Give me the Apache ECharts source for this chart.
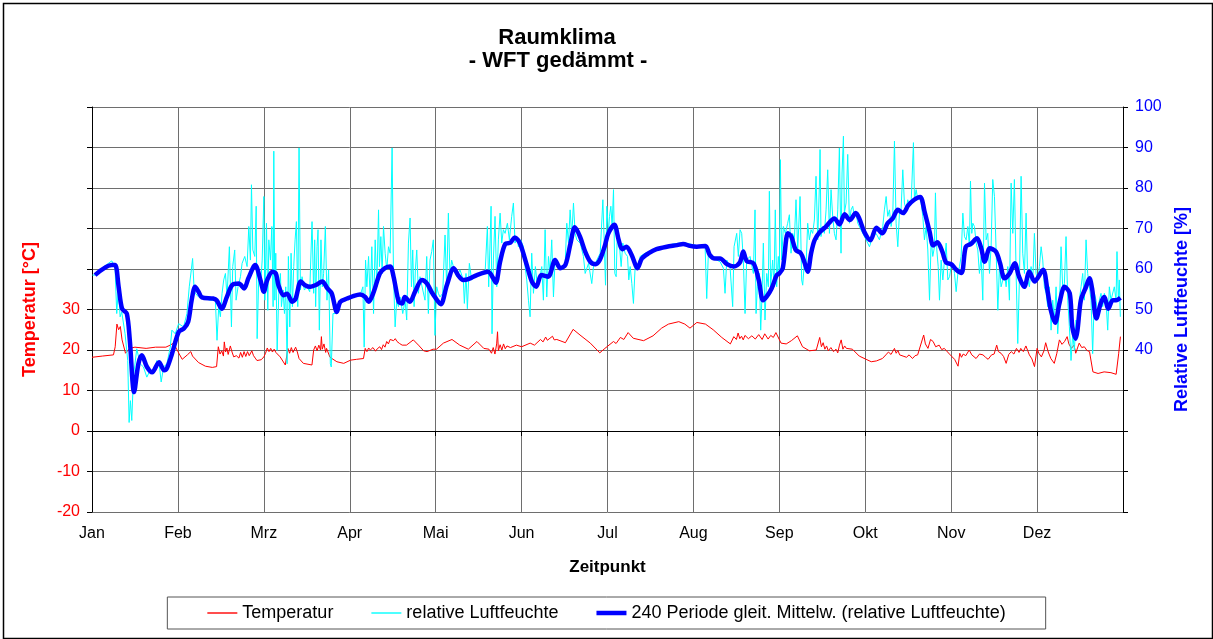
<!DOCTYPE html>
<html>
<head>
<meta charset="utf-8">
<script src="https://cdn.jsdelivr.net/npm/echarts@6/dist/echarts.min.js"></script>
<style>
html,body{margin:0;padding:0;background:#fff;}
#chart{width:1213px;height:639px;}
</style>
</head>
<body>
<div id="chart"></div>
<script>
// ---- categories / tick labels ----
const months = ['Jan','Feb','Mrz','Apr','Mai','Jun','Jul','Aug','Sep','Okt','Nov','Dez'];
const tempTicksShown = [-20,-10,0,10,20,30];
const humTicksShown = [40,50,60,70,80,90,100];
const seriesNames = ['Temperatur', 'relative Luftfeuchte', '240 Periode gleit. Mittelw. (relative Luftfeuchte)'];

// ---- Temperatur [°C]  (x = month position, 0 = 1. Jan, 12 = 31. Dez) ----
const tempJanApr = [
[0.0,18.2],[0.12,18.5],[0.25,18.8],[0.27,20.8],[0.29,26.4],[0.31,25],[0.33,25.8],[0.35,22.5],[0.39,19.2],[0.44,20.4],[0.5,20.7],[0.63,20.4],[0.74,20.7],[0.86,20.7],[0.91,21.2],[0.95,21.7],[1.0,19.6],[1.05,17.7],[1.11,18.8],[1.15,19.6],[1.17,18.5],[1.24,16.9],[1.32,16],[1.4,15.7],[1.45,15.9],[1.47,20.8],[1.49,19.0],[1.51,19.8],[1.53,18.5],[1.54,22],[1.555,19.5],[1.57,20.5],[1.585,18.9],[1.61,21],[1.63,19.5],[1.65,18.3],[1.68,18.6],[1.71,18.0],[1.73,19.4],[1.75,18.2],[1.77,19.6],[1.79,18.4],[1.81,19.6],[1.83,18.6],[1.86,19.8],[1.88,18.6],[1.9,18.0],[1.92,17.4],[1.94,17.1],[1.97,17.6],[2.0,18.3],
[2.02,19.2],[2.04,20.5],[2.06,19.6],[2.08,20.4],[2.1,19.5],[2.12,20.2],[2.14,19.4],[2.19,18.3],[2.25,16.3],[2.28,20.4],[2.3,19.2],[2.32,20.6],[2.34,19.4],[2.37,20.7],[2.39,19.5],[2.41,17.9],[2.46,16.7],[2.56,16.3],[2.58,20],[2.6,21],[2.62,19.8],[2.64,21.2],[2.66,20],[2.67,23.3],[2.68,20.2],[2.7,21.5],[2.72,19.4],[2.73,20.4],[2.77,18.2],[2.85,17.1],[2.93,16.7],[3.01,17.5],[3.08,17.7],[3.16,17.9],[3.18,20.4],[3.2,19.6],[3.22,20.5],[3.24,20],[3.27,20.6],[3.3,19.7],[3.32,20.3],[3.35,20.8],[3.37,20.1],[3.39,21.3],[3.41,20.7],[3.43,22.1],[3.45,21.5],[3.47,22.6],[3.49,22.9],[3.51,22.3],[3.53,22.8],[3.55,22.1],[3.58,21.6],[3.61,21.2],[3.66,21.2],[3.74,22.5],[3.8,21.2],[3.86,19.8],[3.9,19.6],[3.97,20.2]
];
const tempMaiAug = [
[4.01,20.2],[4.09,21.7],[4.19,22.6],[4.28,21.2],[4.38,20.2],[4.48,22.1],[4.56,20.4],[4.62,20.2],[4.65,19.2],[4.67,20.6],[4.69,19.0],[4.71,21.5],[4.72,24.5],[4.73,19.8],[4.75,21.3],[4.77,20.0],[4.79,21.5],[4.81,20.3],[4.83,21.0],[4.87,20.6],[4.94,21.2],[5.0,20.8],[5.1,21.7],[5.15,21.2],[5.22,22.6],[5.25,22.0],[5.28,23.2],[5.3,22.4],[5.33,22.9],[5.36,23.4],[5.38,22.5],[5.41,22.6],[5.51,21.8],[5.6,25.1],[5.68,23.7],[5.8,21.7],[5.91,19.3],[5.97,20.4],
[6.07,22.1],[6.1,21.6],[6.15,23.1],[6.19,22.6],[6.24,24.3],[6.3,22.9],[6.42,22.3],[6.53,23.5],[6.63,25.4],[6.71,26.4],[6.83,27],[6.9,26.4],[6.96,25.4],[7.04,26.8],[7.14,26.4],[7.23,25],[7.33,23.1],[7.43,21.5],[7.47,23.3],[7.5,22.6],[7.52,24.2],[7.54,22.8],[7.56,23.4],[7.58,22.5],[7.6,23.6],[7.64,22.8],[7.68,23.5],[7.72,22.7],[7.76,23.8],[7.8,22.6],[7.83,24.0],[7.87,22.7],[7.9,23.6],[7.93,23.1],[7.96,24.3]
];
const tempSepDez = [
[7.98,24.1],[8.02,21.7],[8.08,21.5],[8.14,22.3],[8.21,23.5],[8.27,20.8],[8.35,19.8],[8.43,20],[8.47,23.1],[8.49,20.8],[8.51,21.8],[8.53,20.2],[8.55,21.0],[8.57,19.8],[8.6,20.6],[8.63,19.6],[8.66,20.2],[8.68,19.3],[8.7,21.2],[8.72,22.5],[8.74,20.2],[8.76,21.0],[8.78,20.4],[8.85,20.2],[8.93,18.5],[9.01,17.7],[9.07,17.1],[9.13,17.3],[9.2,17.9],[9.24,18.8],[9.27,19.5],[9.3,18.9],[9.34,20.4],[9.36,19.2],[9.38,19.9],[9.4,18.8],[9.44,18.5],[9.48,18.2],[9.51,18.8],[9.55,17.9],[9.58,18.6],[9.61,18.8],[9.68,23.7],[9.7,21.5],[9.73,20.4],[9.76,22.6],[9.79,22.1],[9.82,20.8],[9.86,21.2],[9.89,20.1],[9.92,20.4],
[9.98,19],[10.04,17.7],[10.08,16],[10.1,19.2],[10.12,18.2],[10.14,19.0],[10.17,18.6],[10.21,20],[10.24,18.8],[10.29,17.9],[10.33,19.0],[10.37,18.8],[10.4,18.2],[10.43,17.7],[10.47,18.8],[10.5,19],[10.53,21.2],[10.55,19.6],[10.58,19.2],[10.61,18.4],[10.64,16.7],[10.67,18.9],[10.7,19.6],[10.73,19.0],[10.76,20.4],[10.79,19.4],[10.81,20.4],[10.84,19.6],[10.87,21],[10.91,18.8],[10.94,17.8],[10.97,15.9],[11.0,20.4],[11.02,19.2],[11.05,18.3],[11.08,19.8],[11.1,21.8],[11.13,19.5],[11.16,17.9],[11.2,16.7],[11.23,19.2],[11.26,22.5],[11.29,21.4],[11.32,22.1],[11.35,23.3],[11.37,21.5],[11.4,20.4],[11.43,21.2],[11.45,19.2],[11.49,21.7],[11.52,20.6],[11.55,20.8],[11.58,19.9],[11.61,19.6],[11.65,14.6],[11.71,14.2],[11.78,14.6],[11.86,14.4],[11.92,14],[11.95,19.2],[11.97,23.3]
];

// ---- relative Luftfeuchte [%] ----
const humJanFeb = [
[0.005,58.5],[0.035,58.5],[0.113,60.2],[0.191,61.4],[0.23,62],[0.249,62.4],[0.268,60.6],[0.288,49],[0.307,55.6],[0.327,48.2],[0.346,49.4],[0.385,44],[0.416,37.4],[0.432,22.1],[0.447,27.5],[0.463,22.6],[0.482,33.3],[0.521,40.3],[0.56,36.6],[0.599,35.8],[0.638,33.3],[0.677,35],[0.716,34.1],[0.755,37.4],[0.782,36.6],[0.805,32.1],[0.833,35.8],[0.872,36.6],[0.911,40.7],[0.93,44.9],[0.969,44],[1.008,46.5],[1.066,45.7],[1.105,49],[1.132,55.6],[1.156,59.8],[1.171,62.6],[1.187,55.6],[1.202,54],[1.241,53.1],[1.3,52.7],[1.377,52.3],[1.436,52.3],[1.455,42.4],[1.475,50.7],[1.494,48.2],[1.514,54],[1.533,57.3],[1.553,58.9],[1.572,53.1],[1.599,65.5],[1.623,45.7],[1.638,60.6],[1.661,64.7],[1.677,52.3],[1.7,55.6],[1.728,58.1],[1.747,61.4],[1.778,63.1],[1.805,60.6],[1.825,70.5],[1.844,62.2],[1.856,80.8],[1.872,64.7],[1.895,63.1],[1.911,75.5],[1.922,42.8],[1.942,58.9],[1.961,55.6],[1.981,62.2]
];
const humMarApr = [
[2.0,77.9],[2.012,52.3],[2.031,71.3],[2.046,49.8],[2.058,67.2],[2.077,62.2],[2.093,70.5],[2.108,50.7],[2.116,89.1],[2.128,52.3],[2.139,63.9],[2.155,39.9],[2.174,54],[2.193,58.9],[2.205,50.7],[2.224,54.8],[2.24,49],[2.255,55.6],[2.271,36.6],[2.286,63.1],[2.302,45.7],[2.317,63.9],[2.333,50.7],[2.348,60.6],[2.364,67.2],[2.379,71.7],[2.395,50.7],[2.41,89.9],[2.426,54.8],[2.445,58.1],[2.472,54.8],[2.503,55.6],[2.534,54.4],[2.561,71.7],[2.58,54],[2.592,67.2],[2.603,50.7],[2.619,65.5],[2.631,69.7],[2.646,44.9],[2.665,67.2],[2.681,55.6],[2.696,58.9],[2.716,70.5],[2.735,52.3],[2.754,59.8],[2.774,36.6],[2.785,35.8],[2.805,49],[2.832,49],[2.87,51.1],[2.909,52.3],[2.967,52.7],[3.044,53.6],[3.122,53.6],[3.153,55.6],[3.168,40.7],[3.184,62.2],[3.199,55.6],[3.219,63.1],[3.238,52.3],[3.257,65.5],[3.277,49],[3.296,67.2],[3.315,55.6],[3.335,74.6],[3.346,60.6],[3.362,68],[3.377,58.9],[3.393,70.5],[3.412,63.9],[3.431,59.8],[3.451,65.5],[3.47,63.9],[3.493,89.9],[3.509,58.9],[3.528,45.7],[3.547,52.3],[3.567,50.7],[3.586,53.1],[3.617,49],[3.644,52.3],[3.663,47.4],[3.683,66.4],[3.702,72.6],[3.718,55.6],[3.733,64.7],[3.749,50.7],[3.764,59.8],[3.78,64.7],[3.799,54],[3.818,58.1],[3.838,56],[3.857,55.6],[3.876,52.3],[3.896,63.1],[3.915,49],[3.934,62.2],[3.954,64.3],[3.973,67.2],[3.992,43.6],[4.012,55.6]
];
const humMaiJun = [
[4.031,54],[4.05,53.1],[4.082,54],[4.109,68.4],[4.128,55.6],[4.148,73.8],[4.167,58.1],[4.186,62.2],[4.206,60.6],[4.245,58.1],[4.283,59.8],[4.322,57.3],[4.334,51.5],[4.353,58.9],[4.369,50.2],[4.392,61.4],[4.419,57.3],[4.458,58.1],[4.517,58.9],[4.575,58.9],[4.602,70.5],[4.617,55.6],[4.633,66.4],[4.645,75.5],[4.656,44],[4.672,62.2],[4.691,73],[4.711,55.6],[4.73,67.2],[4.75,73.8],[4.769,66.4],[4.788,69.7],[4.808,68.8],[4.835,71.3],[4.858,67.2],[4.885,73],[4.905,76.3],[4.924,66.4],[4.944,68],[4.963,65.5],[4.99,67.2],[5.021,65.5],[5.041,60.6],[5.06,57.3],[5.08,52.3],[5.099,48.2],[5.118,63.9],[5.138,54],[5.161,60.6],[5.184,55.6],[5.208,57.3],[5.235,60.6],[5.254,52.3],[5.274,69.7],[5.293,53.1],[5.313,63.1],[5.332,58.9],[5.351,67.2],[5.371,53.1],[5.39,62.2],[5.429,60.6],[5.468,59.8],[5.507,61],[5.526,71.3],[5.546,66.4],[5.565,74.6],[5.584,68],[5.604,76.3],[5.623,68.8],[5.643,67.2],[5.682,66.4],[5.72,63.1],[5.74,58.9],[5.779,61.4],[5.817,56.4],[5.837,60.6],[5.876,62.2],[5.915,63.9],[5.946,77.1],[5.961,67.2],[5.977,56],[5.992,75.5],[6.012,68.8]
];
const humJulAug = [
[6.023,73],[6.039,75.5],[6.054,70.5],[6.07,79.6],[6.085,58.9],[6.101,58.1],[6.116,70.5],[6.14,65.5],[6.159,60.6],[6.178,66.4],[6.205,63.9],[6.233,63.1],[6.248,57.3],[6.264,60.6],[6.283,56.4],[6.302,51.5],[6.322,60.6],[6.349,59.8],[6.38,63.1],[6.438,63.9],[6.535,64.7],[6.651,65.5],[6.767,66.2],[6.884,66.5],[7.0,66],[7.078,65.5],[7.136,65.5],[7.155,52.7],[7.174,63.9],[7.233,62.6],[7.31,61.8],[7.349,60.2],[7.368,54],[7.388,62.2],[7.426,60.6],[7.457,50.7],[7.473,65.5],[7.504,68.8],[7.523,63.1],[7.543,69.7],[7.562,68.8],[7.581,62.2],[7.601,49],[7.62,62.2],[7.659,63.1],[7.698,58.9],[7.717,74.6],[7.729,49],[7.744,55.6],[7.767,58.9],[7.783,44.9],[7.798,53.1],[7.814,66.4],[7.833,47.4],[7.853,58.9],[7.872,55.6],[7.884,79.2],[7.899,55.6],[7.922,62.2],[7.938,55.6],[7.953,74.6],[7.969,55.6],[7.988,63.1]
];
const humSepOkt = [
[8.0,58.9],[8.012,87],[8.027,62.2],[8.047,70.5],[8.07,68.8],[8.097,71.3],[8.117,73.4],[8.136,63.9],[8.155,68.8],[8.175,67.2],[8.194,77.1],[8.214,64.7],[8.241,77.9],[8.26,57.3],[8.272,56],[8.291,61.4],[8.311,60.6],[8.33,71.3],[8.35,67.2],[8.369,69.7],[8.388,68.8],[8.408,72.1],[8.427,82.9],[8.447,67.2],[8.466,80.4],[8.474,89.5],[8.485,68],[8.505,70.5],[8.524,68.8],[8.544,74.6],[8.563,84.5],[8.583,68.8],[8.602,79.6],[8.621,73],[8.641,68.8],[8.66,67.2],[8.68,74.6],[8.699,89.9],[8.718,63.9],[8.73,83.7],[8.746,92.8],[8.757,73.8],[8.777,76.3],[8.796,88.3],[8.816,71.3],[8.835,74.6],[8.854,75.5],[8.874,73],[8.893,73.8],[8.913,71.3],[8.932,71.3],[8.971,68.8],[9.01,67.2],[9.049,65.5],[9.087,68],[9.126,68.8],[9.165,67.2],[9.204,70.5],[9.223,74.6],[9.243,77.9],[9.262,73],[9.282,74.6],[9.301,70.5],[9.32,73],[9.34,91.6],[9.359,71.3],[9.379,65.5],[9.398,73.8],[9.417,74.6],[9.437,84.5],[9.456,76.3],[9.476,74.6],[9.495,77.1],[9.515,75.5],[9.534,76.3],[9.561,91.2],[9.573,77.1],[9.592,79.6],[9.612,77.1],[9.631,77.9],[9.65,76.3],[9.67,73],[9.689,67.2],[9.709,70.5],[9.728,64.7],[9.748,52.3],[9.767,67.2],[9.786,63.1],[9.806,65.5],[9.817,78.8],[9.833,64.7],[9.849,60.6],[9.864,52.3],[9.883,62.2],[9.903,57.3],[9.922,62.2],[9.942,66.4],[9.961,57.3]
];
const humNovDez = [
[9.981,58.1],[10.0,60.6],[10.019,61.4],[10.039,58.9],[10.058,54.4],[10.078,58.9],[10.097,60.6],[10.116,63.1],[10.136,73.8],[10.155,68],[10.174,67.2],[10.194,70.5],[10.213,65.5],[10.225,81.7],[10.24,68.8],[10.252,71.3],[10.271,70.5],[10.291,66.4],[10.31,64.7],[10.329,58.9],[10.349,63.1],[10.368,52.3],[10.388,81.2],[10.407,67.2],[10.426,68.8],[10.446,58.9],[10.465,65.5],[10.484,82.1],[10.504,77.9],[10.523,64.7],[10.543,49.8],[10.562,60.6],[10.581,55.6],[10.601,57.3],[10.62,58.9],[10.64,55.6],[10.659,60.6],[10.678,52.3],[10.698,81.2],[10.717,68.8],[10.736,82.1],[10.756,58.9],[10.775,41.6],[10.795,58.1],[10.814,82.9],[10.833,63.9],[10.853,58.9],[10.872,73.8],[10.891,57.3],[10.911,55.6],[10.93,60.6],[10.95,57.3],[10.969,68.8],[10.988,58.9],[11.008,57.3],[11.027,60.6],[11.047,65.5],[11.066,62.2],[11.085,55.6],[11.105,54],[11.124,50.7],[11.143,55.6],[11.163,44.9],[11.182,52.3],[11.202,47.4],[11.221,55.6],[11.24,44],[11.26,50.7],[11.279,65.5],[11.298,55.6],[11.318,56.4],[11.337,68],[11.357,52.3],[11.376,45.7],[11.395,37.4],[11.415,44],[11.434,39.9],[11.453,47.4],[11.473,44.9],[11.492,52.3],[11.512,55.6],[11.531,58.9],[11.55,52.3],[11.57,67.2],[11.589,58.9],[11.609,55.6],[11.628,52.3],[11.647,39.1],[11.667,54],[11.686,52.3],[11.705,49],[11.725,52.3],[11.744,54],[11.764,50.7],[11.783,54],[11.802,52.3],[11.822,44.9],[11.841,55.6],[11.86,52.3],[11.88,52.3],[11.899,55.6],[11.919,52.3],[11.93,64.3],[11.946,52.3],[11.957,57.3],[11.969,48.2]
];

// ---- 240 Periode gleit. Mittelw. (relative Luftfeuchte) ----
const maJanApr = [
[0.035,58.5],[0.23,61],[0.27,61],[0.31,55.6],[0.35,50.2],[0.405,49],[0.44,42.4],[0.49,29.6],[0.54,36.6],[0.58,38.7],[0.64,35.8],[0.70,34.5],[0.78,37],[0.84,35],[0.87,35.4],[0.93,39],[1.01,44.5],[1.07,45.3],[1.12,47],[1.16,52.3],[1.2,55.6],[1.24,54.4],[1.28,53],[1.41,52.7],[1.45,52.3],[1.51,50.2],[1.57,53.1],[1.63,56],[1.71,56.4],[1.77,55.2],[1.82,57.7],[1.9,61],[1.96,57.3],[2.0,54.4],
[2.04,57.3],[2.1,59.3],[2.14,58.9],[2.17,56],[2.23,53.5],[2.27,53.9],[2.33,51.9],[2.37,52.7],[2.43,56.9],[2.48,56],[2.54,55.6],[2.6,56],[2.68,56.9],[2.74,55.2],[2.79,54],[2.85,49.4],[2.89,51.9],[2.97,52.7],[3.04,53.3],[3.12,53.7],[3.18,53.1],[3.22,51.9],[3.28,54.4],[3.35,58.9],[3.41,60.2],[3.47,60.6],[3.51,58.1],[3.57,51.9],[3.61,51.5],[3.64,53.1],[3.7,51.9],[3.76,54.4],[3.84,57.3],[3.9,56.4],[3.95,54.4]
];
const maMaiAug = [
[3.99,53.1],[4.06,51.3],[4.13,56],[4.21,60.2],[4.26,58.5],[4.32,57.3],[4.38,57.5],[4.48,58.5],[4.61,59.3],[4.67,57.7],[4.7,56.6],[4.75,61.8],[4.81,66.2],[4.87,66.5],[4.92,67.8],[4.98,66.4],[5.06,61],[5.12,56.9],[5.17,55.6],[5.23,58.5],[5.31,58.1],[5.39,62.2],[5.45,60.2],[5.51,61],[5.57,66.4],[5.62,70.3],[5.68,68],[5.74,64.3],[5.8,61.8],[5.86,61.2],[5.91,62.2],[5.97,65.8],
[6.01,68.8],[6.08,70.9],[6.13,67.2],[6.17,64.9],[6.22,65.5],[6.28,63.5],[6.35,60.2],[6.4,62.6],[6.48,63.9],[6.57,64.9],[6.69,65.5],[6.81,65.9],[6.88,66.2],[6.96,65.7],[7.04,65.5],[7.14,65.7],[7.19,63.5],[7.25,62.6],[7.31,62.6],[7.39,61.2],[7.47,60.6],[7.54,61.6],[7.58,64.3],[7.62,62],[7.7,61.4],[7.76,57.3],[7.81,52.3],[7.85,53.1],[7.91,55.2],[7.97,58.5]
];
const maSepDez = [
[8.0,58.9],[8.04,60.2],[8.1,68.8],[8.14,68],[8.19,64.7],[8.25,63.9],[8.29,61.8],[8.33,59.3],[8.37,63.9],[8.41,67.1],[8.47,69.1],[8.54,70.4],[8.64,72.5],[8.7,71],[8.76,73.5],[8.82,72.1],[8.89,73.8],[8.93,72.5],[8.99,69.1],[9.06,67.1],[9.13,70.2],[9.2,68.8],[9.26,71.3],[9.32,72.5],[9.38,74.6],[9.44,73.8],[9.5,75.7],[9.57,77.1],[9.64,77.8],[9.69,74.2],[9.75,69.1],[9.79,65.8],[9.84,66.6],[9.9,64.1],[9.94,61.6],
[10.0,61.2],[10.06,59.8],[10.12,59],[10.17,65.5],[10.23,66.2],[10.3,67.6],[10.35,65.1],[10.39,61.8],[10.45,65.1],[10.52,64.3],[10.57,61.4],[10.62,57.7],[10.68,58.9],[10.74,61.4],[10.79,58.1],[10.85,55.6],[10.91,59.3],[10.97,56.9],[11.07,59.8],[11.12,54.8],[11.16,49.8],[11.21,46.7],[11.26,51.5],[11.32,55.6],[11.38,54],[11.41,45.7],[11.45,42.8],[11.47,44.8],[11.51,52.3],[11.57,55.6],[11.61,57.7],[11.64,55.2],[11.69,47.8],[11.74,51.5],[11.78,53.1],[11.83,50.2],[11.88,52.3],[11.92,52.3],[11.97,52.9]
];

const tempData = [].concat(tempJanApr, tempMaiAug, tempSepDez);
const humData = [].concat(humJanFeb, humMarApr, humMaiJun, humJulAug, humSepOkt, humNovDez);
const maData = [].concat(maJanApr, maMaiAug, maSepDez);

const FONT = "'Liberation Sans', Arial, sans-serif";
const chart = echarts.init(document.getElementById('chart'), null, {renderer: 'canvas'});
const gridColor = '#6e6e6e';

chart.setOption({
  backgroundColor: '#ffffff',
  animation: false,
  textStyle: {fontFamily: FONT},
  graphic: [
    {type: 'rect', left: 1, top: 1, shape: {x: 0, y: 0, width: 1209, height: 635},
     style: {fill: 'none', stroke: '#000', lineWidth: 1.5}, z: -1},
    {type: 'text', x: 557, y: 38, style: {text: 'Raumklima', font: 'bold 22px ' + FONT, fill: '#000', textAlign: 'center', textVerticalAlign: 'middle'}},
    {type: 'text', x: 558, y: 61, style: {text: '- WFT gedämmt -', font: 'bold 22px ' + FONT, fill: '#000', textAlign: 'center', textVerticalAlign: 'middle'}}
  ],
  grid: {left: 92, right: 90, top: 107, bottom: 127, containLabel: false},
  legend: {
    bottom: 10, left: 'center',
    data: [
      {name: seriesNames[0], icon: 'path://M0,0H30V1.4H0Z'},
      {name: seriesNames[1], icon: 'path://M0,0H30V1.4H0Z'},
      {name: seriesNames[2], icon: 'path://M0,0H30V4.5H0Z'}
    ],
    symbolKeepAspect: true,
    itemWidth: 30, itemHeight: 14, itemGap: 38,
    borderColor: '#555', borderWidth: 1, padding: [7, 40, 7, 40],
    textStyle: {fontSize: 18, color: '#000', fontFamily: FONT}
  },
  xAxis: {
    type: 'value', min: 0, max: 12, interval: 1,
    name: 'Zeitpunkt', nameLocation: 'middle', nameGap: 47,
    nameTextStyle: {fontSize: 17, fontWeight: 'bold', color: '#000', fontFamily: FONT},
    axisLine: {show: true, lineStyle: {color: '#000', width: 1}},
    axisTick: {show: true, length: 5, lineStyle: {color: '#000'}},
    axisLabel: {fontSize: 16, color: '#000', margin: 14, fontFamily: FONT,
      formatter: v => months[v] || ''},
    splitLine: {show: true, lineStyle: {color: gridColor, width: 1}}
  },
  yAxis: [
    {
      type: 'value', position: 'left', min: -20, max: 80, interval: 10,
      name: 'Temperatur [°C]', nameLocation: 'middle', nameRotate: 90, nameGap: 53,
      nameTextStyle: {fontSize: 18, fontWeight: 'bold', color: '#ff0000', fontFamily: FONT},
      axisLine: {show: true, lineStyle: {color: '#000', width: 1}},
      axisTick: {show: true, length: 5, lineStyle: {color: '#000'}},
      axisLabel: {fontSize: 16, color: '#ff0000', margin: 12, fontFamily: FONT,
        formatter: v => tempTicksShown.indexOf(v) >= 0 ? String(v) : ''},
      splitLine: {show: true, lineStyle: {color: gridColor, width: 1}}
    },
    {
      type: 'value', position: 'right', min: 0, max: 100, interval: 10,
      name: 'Relative Luftfeuchte [%]', nameLocation: 'middle', nameRotate: 90, nameGap: 50,
      nameTextStyle: {fontSize: 18, fontWeight: 'bold', color: '#0000ff', fontFamily: FONT},
      axisLine: {show: true, lineStyle: {color: '#000', width: 1}},
      axisTick: {show: true, length: 5, lineStyle: {color: '#000'}},
      axisLabel: {fontSize: 16, color: '#0000ff', margin: 12, fontFamily: FONT,
        formatter: v => humTicksShown.indexOf(v) >= 0 ? String(v) : ''},
      splitLine: {show: false}
    }
  ],
  series: [
    {name: seriesNames[0], type: 'line', yAxisIndex: 0, data: tempData,
     symbol: 'none', lineStyle: {color: '#ff0000', width: 1}, itemStyle: {color: '#ff0000'}, z: 2},
    {name: seriesNames[1], type: 'line', yAxisIndex: 1, data: humData,
     symbol: 'none', lineStyle: {color: '#00ffff', width: 1}, itemStyle: {color: '#00ffff'}, z: 3},
    {name: seriesNames[2], type: 'line', yAxisIndex: 1, data: maData,
     symbol: 'none', smooth: 0.3, lineStyle: {color: '#0000ff', width: 4.5}, itemStyle: {color: '#0000ff'}, z: 4}
  ]
});
</script>
</body>
</html>
